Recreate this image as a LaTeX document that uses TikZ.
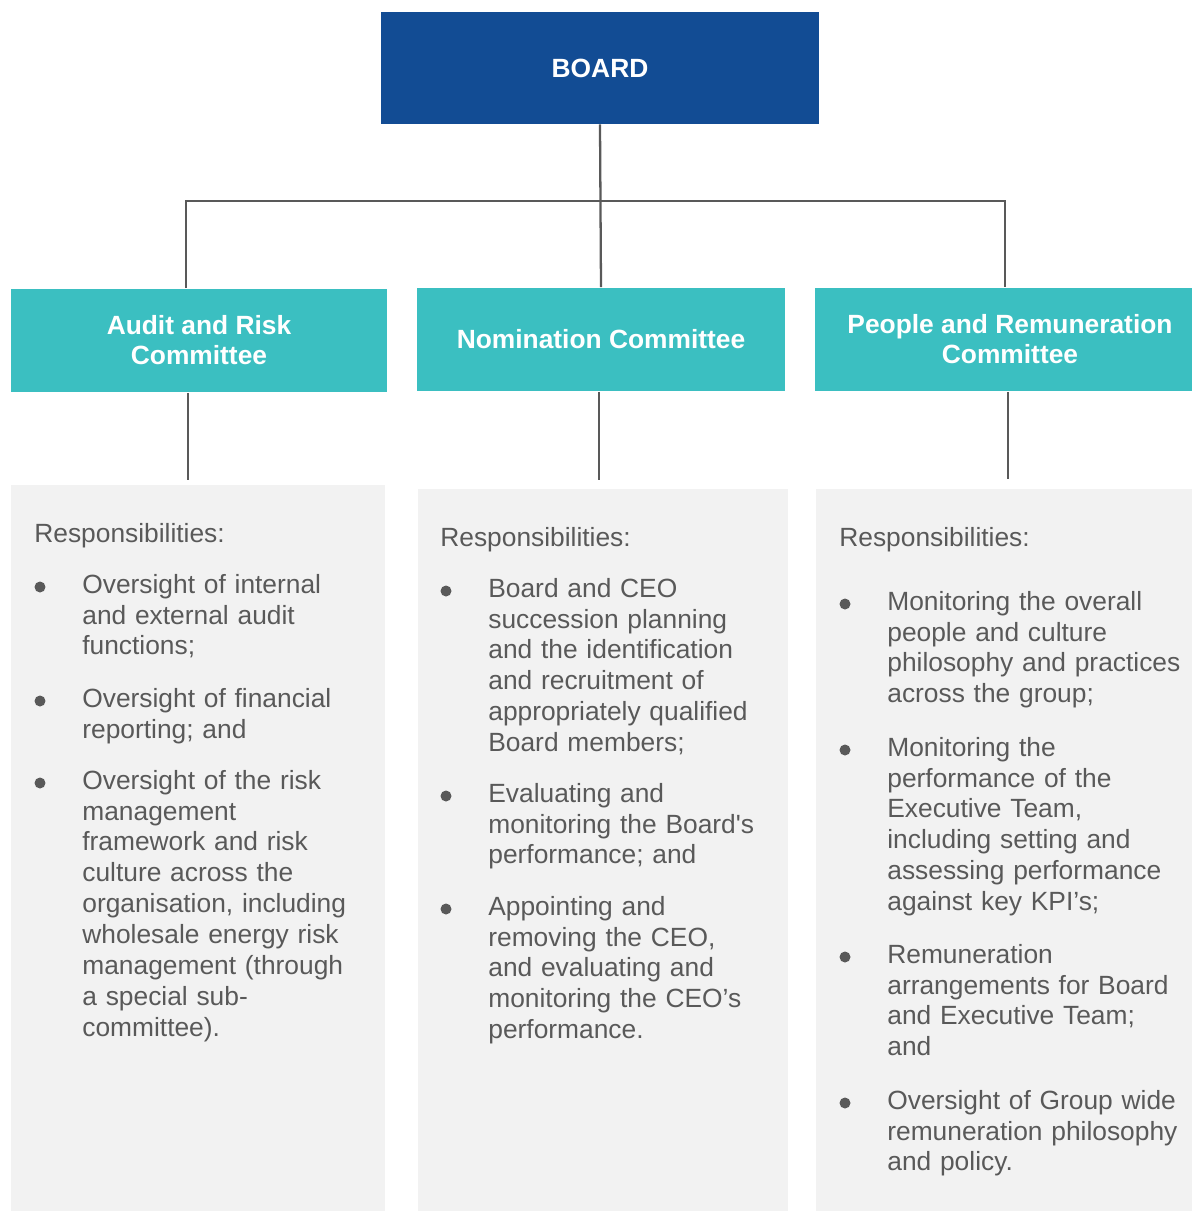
\documentclass[tikz,border=0pt]{standalone}
\usepackage{fontspec}
\setmainfont{Liberation Sans}
\usetikzlibrary{calc}
\definecolor{boardblue}{RGB}{18,76,148}
\definecolor{committeeteal}{RGB}{59,191,193}
\definecolor{panelgrey}{RGB}{242,242,242}
\definecolor{textgrey}{RGB}{89,89,89}
\newcommand{\RespItem}[4]{
\node[bulletmark] (#1Dot) at (#2,{#3-6}) {}; % bullet next to the first line
\node[item] (#1) at ({#2+42},#3) {#4}; % text of the item, lines broken by hand
}

\begin{document}
\begin{tikzpicture}[x=0.02cm, y=-0.02cm,
board/.style={fill=boardblue, text=white, inner sep=0, minimum width=8.76cm, minimum height=2.24cm, font=\bfseries\fontsize{15}{17}\selectfont},
committee/.style={fill=committeeteal, text=white, inner sep=0, minimum height=2.08cm, align=center, font=\bfseries\fontsize{15}{17}\selectfont},
panel/.style={fill=panelgrey, inner sep=0, anchor=north west},
link/.style={draw=textgrey, line width=1.3pt},
resphead/.style={anchor=base west, inner sep=0, text=textgrey, font=\fontsize{15}{17.64}\selectfont},
bulletmark/.style={circle, fill=textgrey, inner sep=0, minimum size=0.22cm},
item/.style={anchor=base west, inner sep=0, text width=6.4cm, align=left, text=textgrey, font=\fontsize{15}{17.64}\selectfont},
]
\useasboundingbox (0,0) rectangle (1192,1211);

%%%%%%%%%%%%%%%%%%%%%%%% BOXES %%%%%%%%%%%%%%%%%%%%%%%%%%%
\node[board] (board) at (600,68) {BOARD};

\node[committee, minimum width=7.52cm] (arc) at (199,340.5) {Audit and Risk\\Committee};
\node[committee, minimum width=7.36cm] (nom) at (601,339.5) {Nomination Committee};
\node[committee, minimum width=7.8cm] (prc) at (1010,339.5) {People and Remuneration\\Committee};

\node[panel, minimum width=7.48cm, minimum height=14.7cm] (arcpanel) at (11,485) {};
\node[panel, minimum width=7.4cm, minimum height=14.62cm] (nompanel) at (418,489) {};
\node[panel, minimum width=7.78cm, minimum height=14.62cm] (prcpanel) at (816,489) {};

%%%%%%%%%%%%%%%%%%%%%%%% CONNECTORS %%%%%%%%%%%%%%%%%%%%%%%%%%%
\coordinate (barL) at (186,201);
\coordinate (barR) at (1005,201);
\draw[link] (board.south) -- (nom.north);
\draw[link] (arc.north -| barL) -- (barL) -- (barR) -- (prc.north -| barR);

\coordinate (arcEnd) at (188,480);
\coordinate (nomEnd) at (599,480);
\coordinate (prcEnd) at (1008,479);
\draw[link] (arc.south -| arcEnd) -- (arcEnd);
\draw[link] (nom.south -| nomEnd) -- (nomEnd);
\draw[link] (prc.south -| prcEnd) -- (prcEnd);

%%%%%%%%%%%%%%%%%%%%%%%% AUDIT AND RISK %%%%%%%%%%%%%%%%%%%%%%%%%%%
\node[resphead] (arcHead) at (34,542) {Responsibilities:};
\RespItem{arcA}{40}{593}{Oversight of internal\\and external audit\\functions;}
\RespItem{arcB}{40}{707}{Oversight of financial\\reporting; and}
\RespItem{arcC}{40}{789}{Oversight of the risk\\management\\framework and risk\\culture across the\\organisation, including\\wholesale energy risk\\management (through\\a special sub-\\committee).}

%%%%%%%%%%%%%%%%%%%%%%%% NOMINATION %%%%%%%%%%%%%%%%%%%%%%%%%%%
\node[resphead] (nomHead) at (440,546) {Responsibilities:};
\RespItem{nomA}{446}{597}{Board and CEO\\succession planning\\and the identification\\and recruitment of\\appropriately qualified\\Board members;}
\RespItem{nomB}{446}{802}{Evaluating and\\monitoring the Board{\textquotesingle}s\\performance; and}
\RespItem{nomC}{446}{915}{Appointing and\\removing the CEO,\\and evaluating and\\monitoring the CEO’s\\performance.}

%%%%%%%%%%%%%%%%%%%%%%%% PEOPLE AND REMUNERATION %%%%%%%%%%%%%%%%%%%%%%%%%%%
\node[resphead] (prcHead) at (839,546) {Responsibilities:};
\RespItem{prcA}{845}{610}{Monitoring the overall\\people and culture\\philosophy and practices\\across the group;}
\RespItem{prcB}{845}{756}{Monitoring the\\performance of the\\Executive Team,\\including setting and\\assessing performance\\against key KPI’s;}
\RespItem{prcC}{845}{963}{Remuneration\\arrangements for Board\\and Executive Team;\\and}
\RespItem{prcD}{845}{1109}{Oversight of Group wide\\remuneration philosophy\\and policy.}

\end{tikzpicture}
\end{document}
